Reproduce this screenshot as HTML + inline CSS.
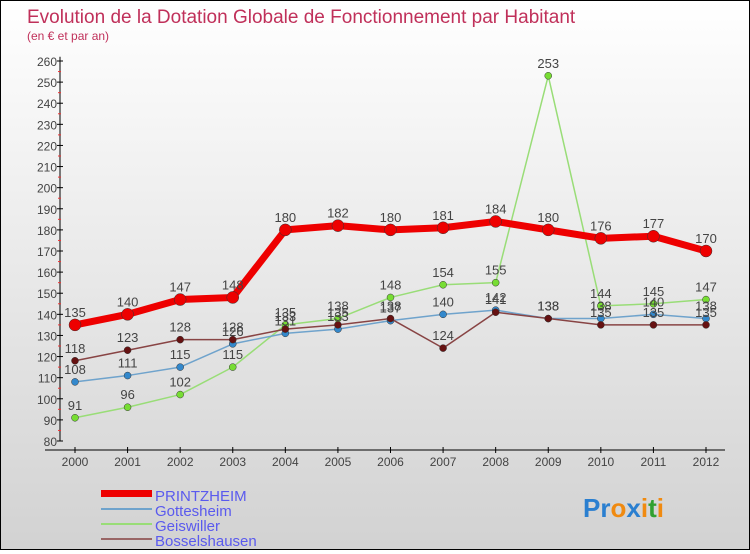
<!DOCTYPE html>
<html><head><meta charset="utf-8"><style>
html,body{margin:0;padding:0}
body{width:750px;height:550px;overflow:hidden;font-family:"Liberation Sans",sans-serif}
#wrap{position:relative;width:748px;height:548px;border:1px solid #000;background:linear-gradient(#ffffff,#d2d2d2)}
</style></head><body>
<div id="wrap">
<svg id="c" width="748" height="548" xmlns="http://www.w3.org/2000/svg">
<text x="26" y="22" font-size="19" fill="#c0305a">Evolution de la Dotation Globale de Fonctionnement par Habitant</text>
<text x="26" y="39" font-size="12" fill="#c0305a">(en € et par an)</text>
<g id="axes"></g><g id="series"></g>
<g>
<rect x="100" y="489" width="51" height="7" fill="#ee0000"/>
<text x="154" y="500" font-size="15" fill="#5a5aee">PRINTZHEIM</text>
<rect x="100" y="507" width="51" height="2" fill="#6fa3cc"/>
<text x="154" y="515" font-size="15" fill="#5a5aee">Gottesheim</text>
<rect x="100" y="522" width="51" height="2" fill="#99dd77"/>
<text x="154" y="530" font-size="15" fill="#5a5aee">Geiswiller</text>
<rect x="100" y="537" width="51" height="2" fill="#996666"/>
<text x="154" y="545" font-size="15" fill="#5a5aee">Bosselshausen</text>
</g>
<text x="582" y="516" font-size="26" font-weight="bold"><tspan fill="#2a7fd0">Pr</tspan><tspan fill="#f08a10">o</tspan><tspan fill="#2a7fd0">x</tspan><tspan fill="#f08a10">i</tspan><tspan fill="#30a030">t</tspan><tspan fill="#f08a10">i</tspan></text>
</svg></div>
<script>
const years=[2000,2001,2002,2003,2004,2005,2006,2007,2008,2009,2010,2011,2012];
const printzheim=[135,140,147,148,180,182,180,181,184,180,176,177,170];
const gottesheim=[108,111,115,126,131,133,137,140,142,138,138,140,138];
const geiswiller=[91,96,102,115,135,138,148,154,155,253,144,145,147];
const bosselshausen=[118,123,128,128,133,135,138,124,141,138,135,135,135];
const yTicks=[80,90,100,110,120,130,140,150,160,170,180,190,200,210,220,230,240,250,260];
const NS="http://www.w3.org/2000/svg";
const x=i=>74+i*(705-74)/(years.length-1);
const y=v=>440-(v-80)*(440-60)/180;
function mk(t,a,p){const e=document.createElementNS(NS,t);for(const k in a)e.setAttribute(k,a[k]);p.appendChild(e);return e;}
const ax=document.getElementById('axes');
const ya=mk('line',{x1:59,y1:y(262),x2:59,y2:y(80),stroke:'#000'},ax);


const xa=mk('line',{x1:44,y1:449,x2:724,y2:449,stroke:'#000'},ax);


yTicks.forEach((v,k)=>{
 mk('line',{x1:56,y1:y(v),x2:62,y2:y(v),stroke:'#000'},ax);
 if(k<yTicks.length-1) mk('line',{x1:57,y1:y(v+5),x2:60,y2:y(v+5),stroke:'#e33'},ax);
 const t=mk('text',{x:56,y:y(v)+5,'font-size':12,'text-anchor':'end',fill:'#444'},ax);t.textContent=v;
 
 
});
years.forEach((yr,i)=>{
 mk('line',{x1:x(i),y1:446,x2:x(i),y2:452,stroke:'#000'},ax);
 const t=mk('text',{x:x(i),y:465,'font-size':12,'text-anchor':'middle',fill:'#444'},ax);t.textContent=yr;
 
 
});
const sg=document.getElementById('series');
function series(name,data,color,dot,w,r){
 const g=mk('g',{},sg);
 
 
 const pl=mk('polyline',{points:data.map((v,i)=>x(i)+','+y(v)).join(' '),fill:'none',stroke:color,'stroke-width':w,'stroke-linejoin':'round'},g);
 
 
 data.forEach((v,i)=>{
  const c=mk('circle',{cx:x(i),cy:y(v),r:r,fill:dot,stroke:'#333','stroke-width':0.5},g);
  
  
  const t=mk('text',{x:x(i),y:y(v)-8,'font-size':13,'text-anchor':'middle',fill:'#444'},g);t.textContent=v;
  
  
 });
}
series('geiswiller',geiswiller,'#99dd77','#77dd33',1.5,3.5);
series('gottesheim',gottesheim,'#6fa3cc','#3388cc',1.5,3.5);
series('bosselshausen',bosselshausen,'#884444','#661111',1.5,3.5);
series('printzheim',printzheim,'#ee0000','#ee0000',7,6);
</script>
</body></html>
